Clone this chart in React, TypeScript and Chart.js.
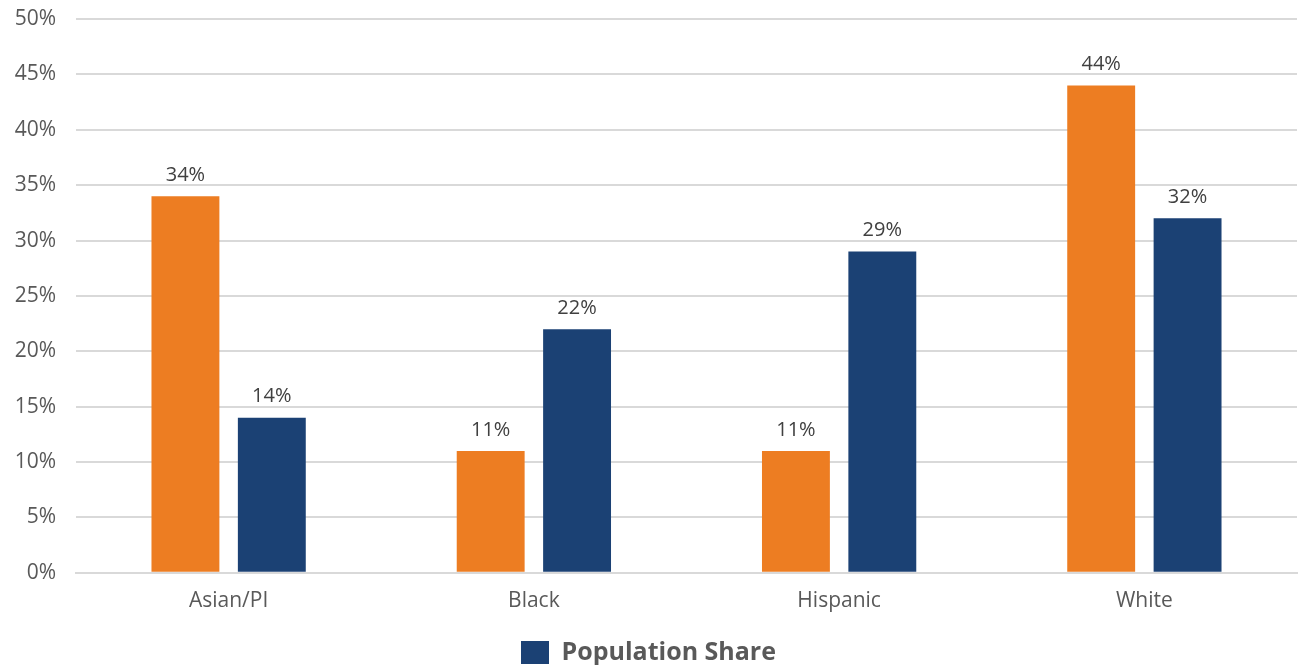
import React, { useEffect, useRef } from "react";
import { Chart, registerables } from "chart.js";

Chart.register(...registerables);

const categories = ["Asian/PI", "Black", "Hispanic", "White"];
const otherShare = [34, 11, 11, 44];
const populationShare = [14, 22, 29, 32];
const yTicks = [0, 5, 10, 15, 20, 25, 30, 35, 40, 45, 50];

const FONT = "'Open Sans', 'Noto Sans', sans-serif";

const valueLabels = {
  id: "valueLabels",
  afterDatasetsDraw(chart: any) {
    const ctx = chart.ctx;
    ctx.save();
    ctx.font = `20px ${FONT}`;
    ctx.fillStyle = "#404040";
    ctx.textAlign = "center";
    ctx.textBaseline = "bottom";
    chart.data.datasets.forEach((ds: any, i: number) => {
      const meta = chart.getDatasetMeta(i);
      meta.data.forEach((bar: any, j: number) => {
        ctx.fillText(`${ds.data[j]}%`, bar.x, bar.y - 11);
      });
    });
    ctx.restore();
  },
};

export default function App() {
  const ref = useRef<HTMLCanvasElement>(null);
  useEffect(() => {
    if (!ref.current) return;
    const chart = new Chart(ref.current, {
      type: "bar",
      data: {
        labels: categories,
        datasets: [
          {
            label: "Share",
            data: otherShare,
            backgroundColor: "#ED7D22",
            barPercentage: 0.786,
            categoryPercentage: 0.566,
          },
          {
            label: "Population Share",
            data: populationShare,
            backgroundColor: "#1B4174",
            barPercentage: 0.786,
            categoryPercentage: 0.566,
          },
        ],
      },
      options: {
        animation: false,
        responsive: true,
        maintainAspectRatio: false,
        layout: { padding: { top: 19, right: 1, left: 0, bottom: -10 } },
        plugins: {
          tooltip: { enabled: false },
          legend: {
            position: "bottom",
            labels: {
              filter: (item: any) => item.datasetIndex === 1,
              boxWidth: 28,
              boxHeight: 23,
              padding: 3,
              color: "#595959",
              font: { family: FONT, size: 25, weight: "bold" },
            },
          },
        },
        scales: {
          x: {
            grid: { display: false, drawTicks: false },
            border: { display: true, color: "#d9d9d9", width: 2 },
            afterFit: (axis: any) => {
              axis.height += 7;
            },
            ticks: {
              color: "#595959",
              font: { family: FONT, size: 21 },
              padding: 16,
            },
          },
          y: {
            min: 0,
            max: 50,
            afterBuildTicks: (axis: any) => {
              axis.ticks = yTicks.map((v) => ({ value: v }));
            },
            afterFit: (axis: any) => {
              axis.width = 76;
              axis.paddingTop = 0;
              axis.paddingBottom = 0;
            },
            grid: { color: "#d9d9d9", lineWidth: 2, drawTicks: false },
            border: { display: false },
            ticks: {
              color: "#595959",
              font: { family: FONT, size: 21 },
              padding: 20,
              callback: (v: any) => `${v}%`,
            },
          },
        },
      },
      plugins: [valueLabels],
    });
    return () => chart.destroy();
  }, []);
  return (
    <div style={{ position: "fixed", left: 0, top: 0, width: 1298, height: 665, background: "#fff" }}>
      <canvas ref={ref} />
    </div>
  );
}
